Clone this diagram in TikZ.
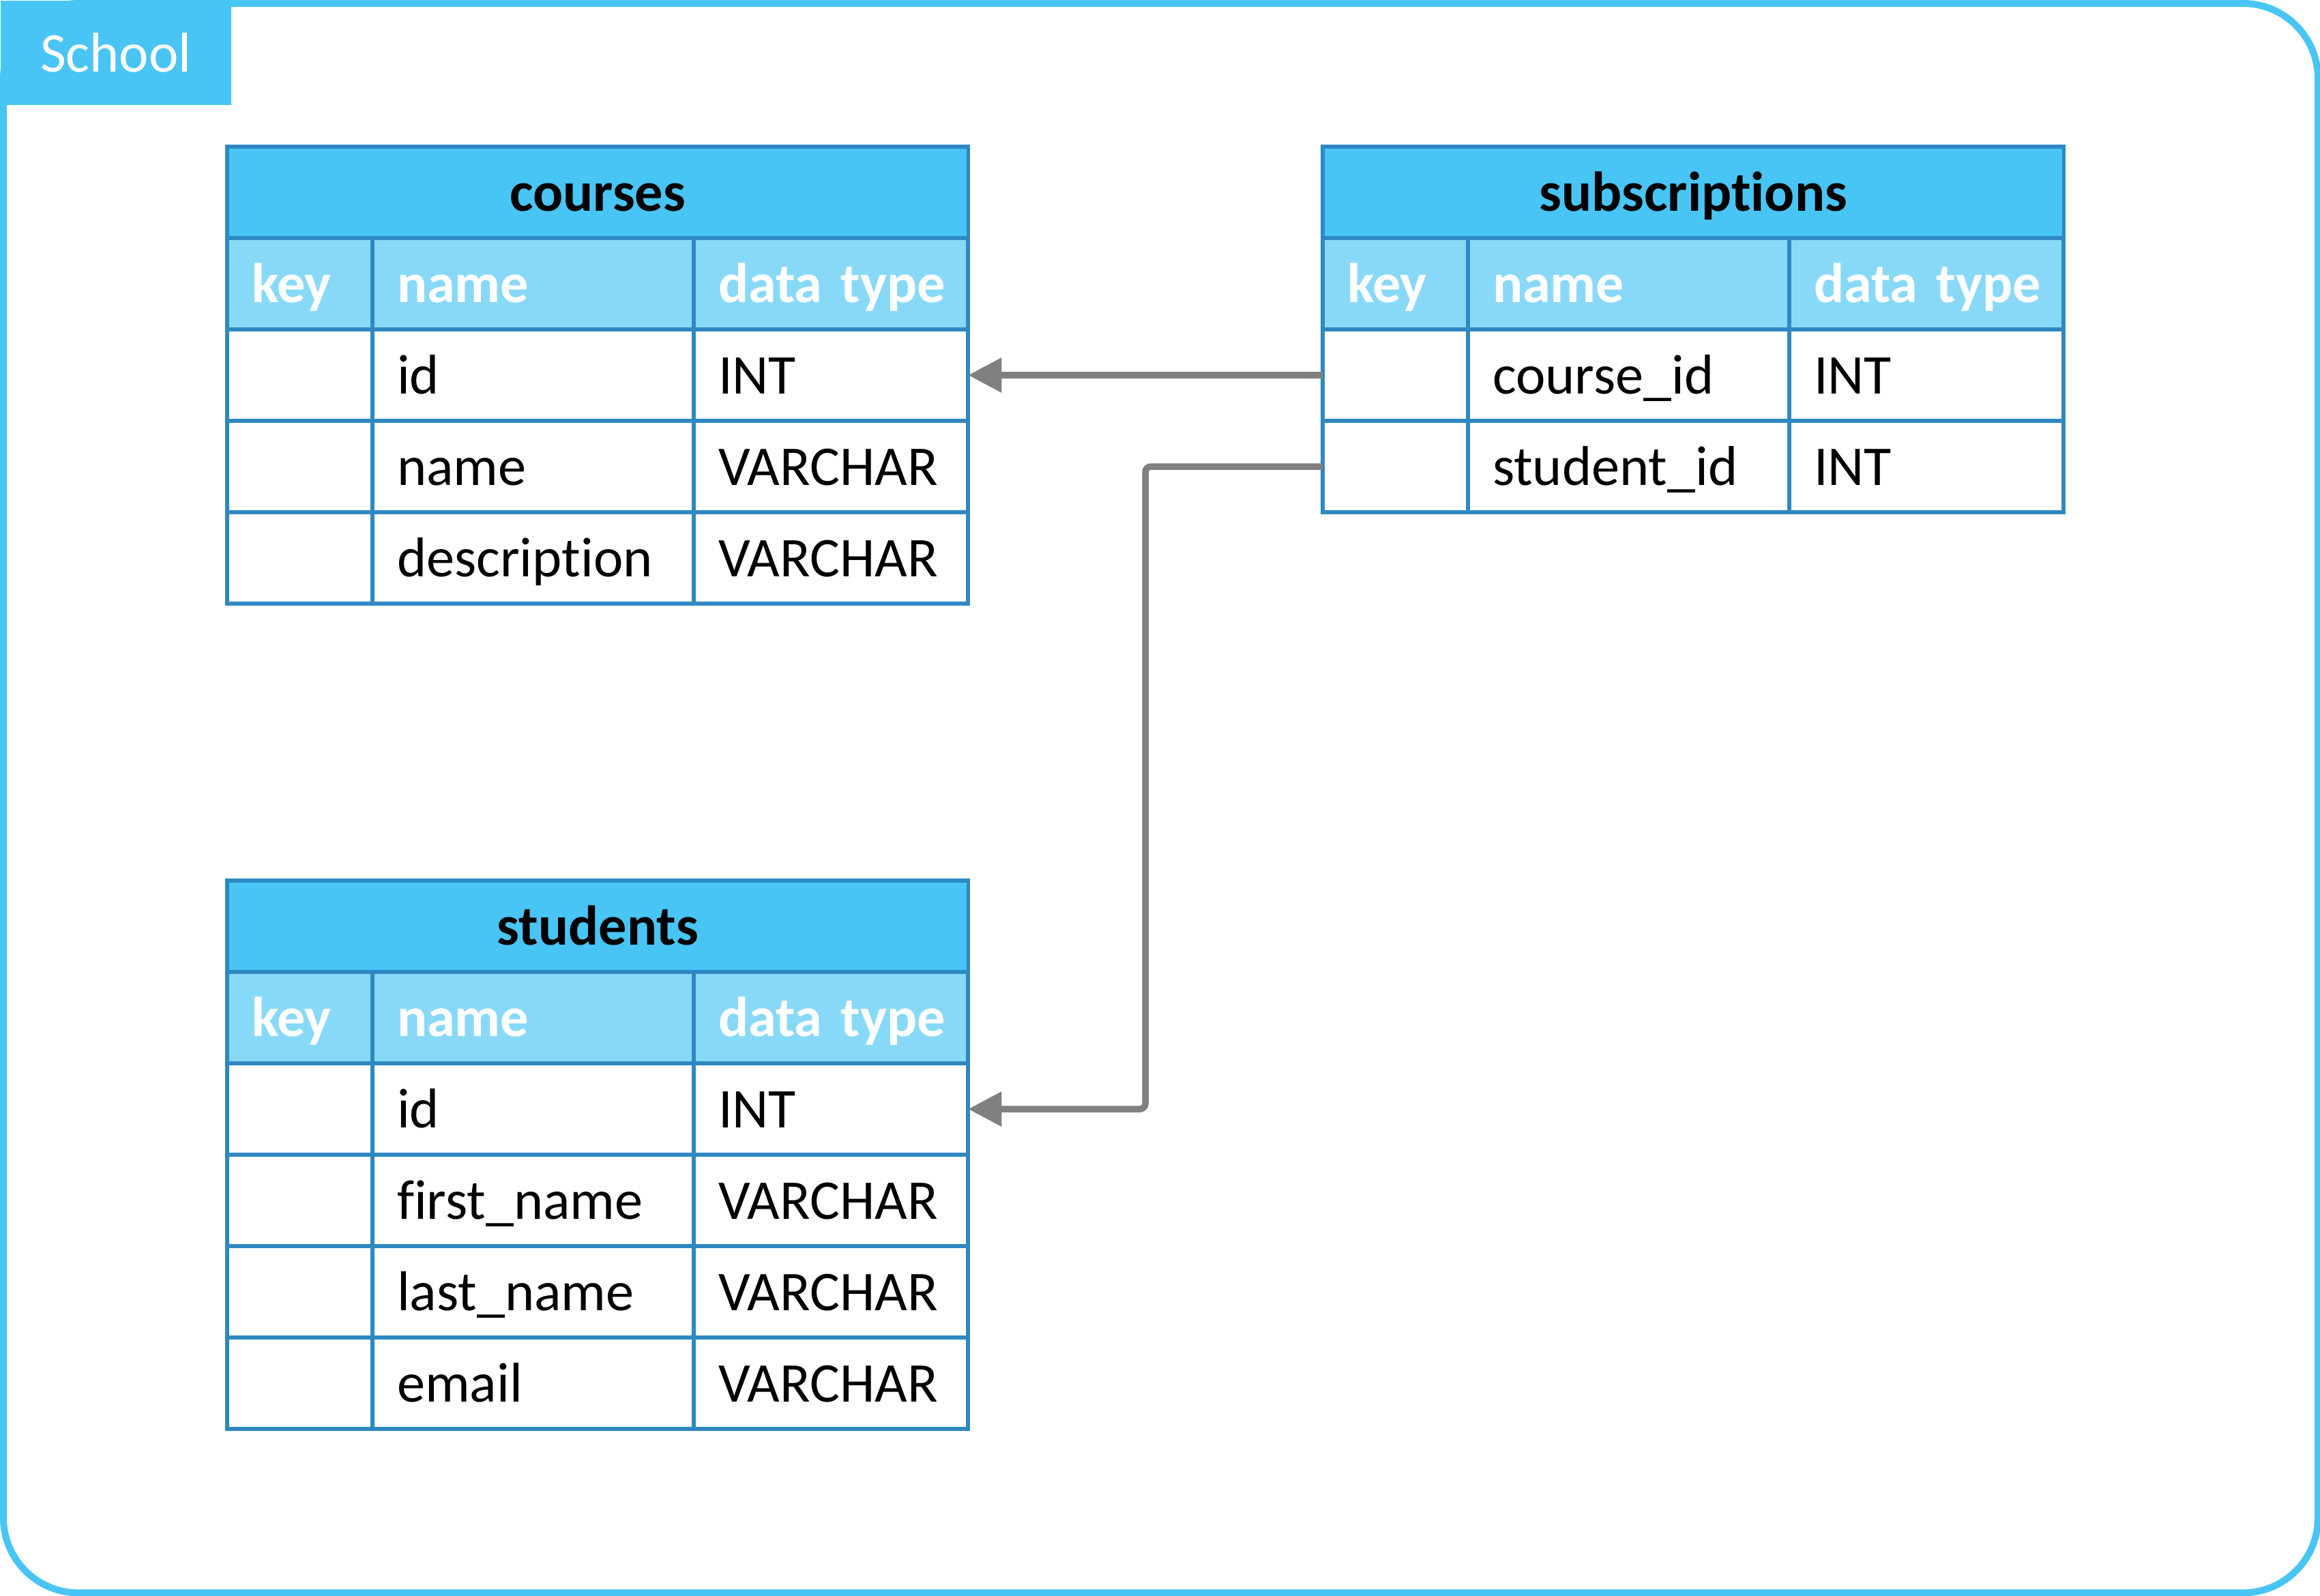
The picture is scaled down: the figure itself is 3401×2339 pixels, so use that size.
\documentclass[tikz,border=0pt]{standalone}
\usepackage{fontspec}
\setmainfont[Ligatures={NoCommon}]{Carlito}
\usepackage{tikz}
\usetikzlibrary{positioning, arrows.meta}

\definecolor{frameblue}{HTML}{48C5F4}
\definecolor{titleblue}{HTML}{48C5F4}
\definecolor{headblue}{HTML}{88D9F8}
\definecolor{lineblue}{HTML}{2E88C1}
\definecolor{conngray}{HTML}{808080}

\newcommand{\cellfont}{\fontsize{23.4}{28}\selectfont}

\begin{document}
\begin{tikzpicture}[
    x=0.01cm, y=-0.01cm,
    schoolframe/.style={draw=frameblue, line width=2.85pt, rounded corners=1.1cm, outer sep=0pt, minimum width=33.91cm, minimum height=23.29cm, anchor=north west},
    schooltab/.style={fill=frameblue, text=white, minimum width=3.38cm, minimum height=1.53cm, anchor=north west, font=\cellfont},
    cell/.style={draw=lineblue, line width=1.6pt, fill=white, outer sep=0pt, inner xsep=0.36cm, inner ysep=0pt, minimum height=1.34cm, text height=0.62cm, text depth=0.08cm, align=left, anchor=north west, font=\cellfont},
    tbltitle/.style={cell, fill=titleblue, inner xsep=0pt, text width=10.86cm, align=center, font=\cellfont\bfseries},
    tblhead/.style={fill=headblue, text=white, font=\cellfont\bfseries},
    keycol/.style={cell, text width=1.41cm},
    namecol/.style={cell, text width=3.99cm},
    typecol/.style={cell, text width=3.30cm},
    conn/.style={draw=conngray, line width=2.7pt, rounded corners=0.08cm, -{Triangle[length=0.49cm, width=0.49cm]}}
]
    \useasboundingbox (0,0) rectangle (3401,2339);

    % Frame
    \node[schoolframe] (school) at (5,5) {};
    \node[schooltab] (tab) at (0,0) {School};

    % courses
    \node[tbltitle] (courses) at (333,215) {courses};
    \node[keycol, tblhead] (courses-key) at (333,349) {key};
    \node[namecol, tblhead] (courses-name) at (546,349) {name};
    \node[typecol, tblhead] (courses-type) at (1017,349) {\mbox{data type}};
    \foreach \n/\t [count=\i] in {id/INT, name/VARCHAR, description/VARCHAR} {
        \node[keycol] (courses-key-\i) at (333,{483+134*(\i-1)}) {};
        \node[namecol] (courses-name-\i) at (546,{483+134*(\i-1)}) {\n};
        \node[typecol] (courses-type-\i) at (1017,{483+134*(\i-1)}) {\t};
    }

    % subscriptions
    \node[tbltitle] (subs) at (1939,215) {subscriptions};
    \node[keycol, tblhead] (subs-key) at (1939,349) {key};
    \node[namecol, tblhead] (subs-name) at (2152,349) {name};
    \node[typecol, tblhead] (subs-type) at (2623,349) {\mbox{data type}};
    \foreach \n/\t [count=\i] in {course\_id/INT, student\_id/INT} {
        \node[keycol] (subs-key-\i) at (1939,{483+134*(\i-1)}) {};
        \node[namecol] (subs-name-\i) at (2152,{483+134*(\i-1)}) {\n};
        \node[typecol] (subs-type-\i) at (2623,{483+134*(\i-1)}) {\t};
    }

    % students
    \node[tbltitle] (students) at (333,1291) {students};
    \node[keycol, tblhead] (students-key) at (333,1425) {key};
    \node[namecol, tblhead] (students-name) at (546,1425) {name};
    \node[typecol, tblhead] (students-type) at (1017,1425) {\mbox{data type}};
    \foreach \n/\t [count=\i] in {id/INT, first\_name/VARCHAR, last\_name/VARCHAR, email/VARCHAR} {
        \node[keycol] (students-key-\i) at (333,{1559+134*(\i-1)}) {};
        \node[namecol] (students-name-\i) at (546,{1559+134*(\i-1)}) {\n};
        \node[typecol] (students-type-\i) at (1017,{1559+134*(\i-1)}) {\t};
    }

    % Connections
    \draw[conn] (subs-key-1.west) -- (courses-type-1.east);
    \draw[conn] (subs-key-2.west) -- ++(-260,0) |- (students-type-1.east);
\end{tikzpicture}
\end{document}
